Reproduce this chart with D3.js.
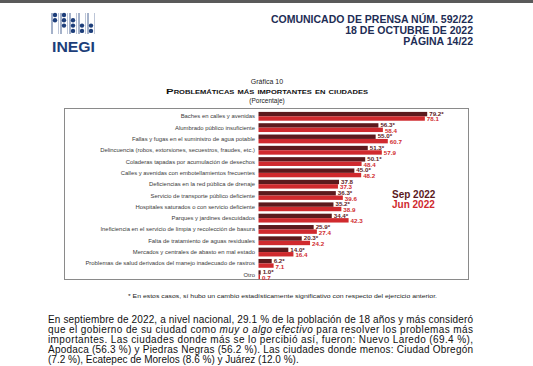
<!DOCTYPE html>
<html>
<head>
<meta charset="utf-8">
<title>Problemáticas más importantes en ciudades</title>
<script src="https://cdnjs.cloudflare.com/ajax/libs/d3/7.8.5/d3.min.js"></script>
<style>
body { margin: 0; background: #fff; }
svg { display: block; font-family: "Liberation Sans", Arial, sans-serif; }
.cat { font-size: 5.9px; fill: #3a3a3a; text-anchor: end; }
.val { font-size: 6.2px; font-weight: bold; }
.hdr { font-size: 10.5px; font-weight: bold; fill: #1e2d55; text-anchor: end; }
.par { font-size: 10px; fill: #111; }
</style>
</head>
<body>
<script>

// chart data
var categories = [
  "Baches en calles y avenidas",
  "Alumbrado público insuficiente",
  "Fallas y fugas en el suministro de agua potable",
  "Delincuencia (robos, extorsiones, secuestros, fraudes, etc.)",
  "Coladeras tapadas por acumulación de desechos",
  "Calles y avenidas con embotellamientos frecuentes",
  "Deficiencias en la red pública de drenaje",
  "Servicio de transporte público deficiente",
  "Hospitales saturados o con servicio deficiente",
  "Parques y jardines descuidados",
  "Ineficiencia en el servicio de limpia y recolección de basura",
  "Falta de tratamiento de aguas residuales",
  "Mercados y centrales de abasto en mal estado",
  "Problemas de salud derivados del manejo inadecuado de rastros",
  "Otro"
];
var sep2022 = [79.2, 56.3, 55.0, 51.3, 50.1, 45.0, 37.8, 36.3, 35.2, 34.4, 25.9, 20.3, 14.0, 6.2, 1.0];
var jun2022 = [78.1, 58.4, 60.7, 57.9, 48.4, 48.2, 37.3, 39.6, 38.9, 42.3, 27.4, 24.2, 16.4, 7.1, 0.7];
var significant = [true, true, true, true, true, true, false, true, true, true, true, true, true, true, true];
var seriesNames = ["Sep 2022", "Jun 2022"];

var width = 533,
    height = 366;

var darkRed = "#5c1a1d",
    brightRed = "#d02a2e";

var svg = d3.select("body").append("svg")
    .attr("width", width)
    .attr("height", height);

// top gray strip
svg.append("rect").attr("x", 0).attr("y", 0).attr("width", width).attr("height", 3).attr("fill", "#5a5a5a");

// INEGI logo (rough)
var logo = svg.append("g").attr("fill", "#1d3e7a").attr("stroke", "#1d3e7a");
var cols = [
  {x: 55, dots: [0, 1]},
  {x: 64, dots: [0, 1, 2]},
  {x: 73, dots: [1, 2, 3]},
  {x: 82, dots: [2, 3]},
  {x: 91, dots: [2, 3]}
];
cols.forEach(function(c) {
  logo.append("line").attr("x1", c.x - 3).attr("x2", c.x - 3).attr("y1", 13).attr("y2", 34)
      .attr("stroke-width", 0.8);
  logo.append("line").attr("x1", c.x + 3.5).attr("x2", c.x + 3.5).attr("y1", 13).attr("y2", 34)
      .attr("stroke-width", 0.5).attr("stroke-opacity", 0.6);
  c.dots.forEach(function(r) {
    logo.append("circle").attr("cx", c.x).attr("cy", 15 + r * 5.3).attr("r", 2.2).attr("stroke", "none");
  });
});
svg.append("text").attr("x", 52).attr("y", 52)
    .style("font-size", "15px").style("font-weight", "bold").attr("fill", "#1d3e7a")
    .attr("textLength", 43).attr("lengthAdjust", "spacingAndGlyphs")
    .text("INEGI");

// header
var hdr = ["COMUNICADO DE PRENSA NÚM. 592/22", "18 DE OCTUBRE DE 2022", "PÁGINA 14/22"];
svg.selectAll(".hdr").data(hdr).enter().append("text")
    .attr("class", "hdr")
    .attr("x", 473)
    .attr("y", function(d, i) { return 23 + i * 11; })
    .text(function(d) { return d; });

// titles
svg.append("text").attr("x", 267).attr("y", 84).attr("text-anchor", "middle")
    .style("font-size", "7px").attr("fill", "#222").text("Gráfica 10");
svg.append("text").attr("x", 267).attr("y", 93.5).attr("text-anchor", "middle")
    .style("font-size", "7.6px").style("font-weight", "bold").style("font-variant", "small-caps")
    .attr("fill", "#111").attr("textLength", 202).attr("lengthAdjust", "spacingAndGlyphs")
    .text("Problemáticas más importantes en ciudades");
svg.append("text").attr("x", 267).attr("y", 102.5).attr("text-anchor", "middle")
    .style("font-size", "6.5px").attr("fill", "#222").text("(Porcentaje)");

// frame
svg.append("rect")
    .attr("x", 64.5).attr("y", 108.5).attr("width", 404).attr("height", 171)
    .attr("fill", "none").attr("stroke", "#8a8a8a").attr("stroke-width", 1);

// scales
var x = d3.scaleLinear().domain([0, 100]).range([258.5, 471.5]);
var y = d3.scaleBand().domain(categories).range([111, 280]).paddingInner(0.22).paddingOuter(0.08);
var y1 = d3.scaleBand().domain(seriesNames).range([0, y.bandwidth()]);

var rows = categories.map(function(c, i) {
  return {cat: c, sep: sep2022[i], jun: jun2022[i], sig: significant[i]};
});

var row = svg.append("g").selectAll("g")
    .data(rows)
  .enter().append("g")
    .attr("transform", function(d) { return "translate(0," + y(d.cat) + ")"; });

row.append("text")
    .attr("class", "cat")
    .attr("x", 255)
    .attr("y", y.bandwidth() / 2)
    .attr("dy", "0.35em")
    .text(function(d) { return d.cat; });

row.append("rect")
    .attr("x", x(0))
    .attr("y", y1("Sep 2022"))
    .attr("width", function(d) { return x(d.sep) - x(0); })
    .attr("height", y1.bandwidth())
    .attr("fill", darkRed);

row.append("rect")
    .attr("x", x(0))
    .attr("y", y1("Jun 2022"))
    .attr("width", function(d) { return x(d.jun) - x(0); })
    .attr("height", y1.bandwidth())
    .attr("fill", brightRed);

row.append("text")
    .attr("class", "val")
    .attr("x", function(d) { return x(d.sep) + 2; })
    .attr("y", y1("Sep 2022") + y1.bandwidth() / 2 - 0.5)
    .attr("dy", "0.35em")
    .attr("fill", darkRed)
    .text(function(d) { return d.sep.toFixed(1) + (d.sig ? "*" : ""); });

row.append("text")
    .attr("class", "val")
    .attr("x", function(d) { return x(d.jun) + 2; })
    .attr("y", y1("Jun 2022") + y1.bandwidth() / 2 + 0.8)
    .attr("dy", "0.35em")
    .attr("fill", brightRed)
    .text(function(d) { return d.jun.toFixed(1); });

// legend
svg.selectAll(".leg").data(seriesNames).enter().append("text")
    .attr("class", "leg")
    .attr("x", 392)
    .attr("y", function(d, i) { return 198 + i * 10; })
    .style("font-size", "10px").style("font-weight", "bold")
    .attr("fill", function(d, i) { return i === 0 ? darkRed : brightRed; })
    .text(function(d) { return d; });

// footnote
svg.append("text").attr("x", 128).attr("y", 298)
    .style("font-size", "5.3px").attr("fill", "#222")
    .attr("textLength", 309).attr("lengthAdjust", "spacingAndGlyphs")
    .text("*  En estos casos, sí hubo un cambio estadísticamente significativo con respecto del ejercicio anterior.");

// paragraph
var lines = [
  [["En septiembre de 2022, a nivel nacional, 29.1 % de la población de 18 años y más consideró", false]],
  [["que el gobierno de su ciudad como ", false], ["muy o algo efectivo", true], [" para resolver los problemas más", false]],
  [["importantes. Las ciudades donde más se lo percibió así, fueron: Nuevo Laredo (69.4 %),", false]],
  [["Apodaca (56.3 %) y Piedras Negras (56.2 %). Las ciudades donde menos: Ciudad Obregón", false]],
  [["(7.2 %), Ecatepec de Morelos (8.6 %) y Juárez (12.0 %).", false]]
];
lines.forEach(function(parts, i) {
  var t = svg.append("text").attr("class", "par")
      .attr("x", 48).attr("y", 322.5 + i * 10.2);
  if (i < 4) t.attr("textLength", 425).attr("lengthAdjust", "spacing");
  parts.forEach(function(p) {
    t.append("tspan").style("font-style", p[1] ? "italic" : "normal").text(p[0]);
  });
});

</script>
</body>
</html>
